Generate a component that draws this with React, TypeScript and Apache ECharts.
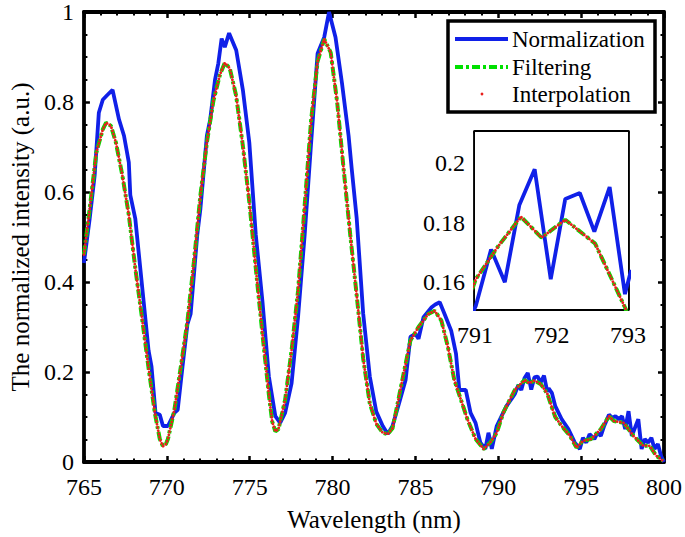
import React, { useEffect, useRef } from "react";
import * as echarts from "echarts";

// Normalization (measured, noisy) spectrum
const normWl = [
  765.0, 765.35, 765.65, 765.9, 766.14, 766.4, 766.73, 767.12, 767.42, 767.71, 767.8, 768.1, 768.4, 768.7, 768.9,
  769.08, 769.32, 769.58, 769.77, 770.07, 770.46, 770.66, 770.95, 771.25, 771.44, 771.84, 772.03, 772.42, 772.62,
  772.91, 773.11, 773.31, 773.5, 773.76, 774.19, 774.59, 774.98, 775.37, 775.77, 776.16, 776.55, 776.84, 777.14,
  777.53, 777.92, 778.32, 778.71, 779.1, 779.5, 779.79, 780.18, 780.57, 780.97, 781.16, 781.46, 781.85, 782.25,
  782.64, 783.03, 783.33, 783.62, 784.02, 784.41, 784.7, 785.0, 785.19, 785.49, 785.98, 786.2, 786.47, 786.76,
  787.16, 787.45, 787.65, 788.04, 788.33, 788.63, 788.92, 789.22, 789.41, 789.61, 789.91, 790.2, 790.49, 790.8,
  791.01, 791.21, 791.39, 791.58, 791.78, 791.99, 792.18, 792.37, 792.56, 792.76, 792.96, 793.04, 793.24, 793.44,
  793.83, 794.23, 794.62, 794.92, 795.11, 795.31, 795.51, 795.8, 795.99, 796.19, 796.39, 796.68, 796.88, 797.07,
  797.27, 797.47, 797.66, 797.86, 798.06, 798.25, 798.45, 798.65, 798.84, 799.04, 799.24, 799.43, 799.63, 799.82,
  800.0,
];
const normVal = [
  0.442, 0.541, 0.637, 0.776, 0.805, 0.815, 0.827, 0.761, 0.725, 0.666, 0.593, 0.541, 0.431, 0.322, 0.248,
  0.212, 0.109, 0.105, 0.08, 0.08, 0.109, 0.116, 0.212, 0.307, 0.329, 0.505, 0.563, 0.725, 0.761,
  0.849, 0.886, 0.941, 0.922, 0.953, 0.915, 0.827, 0.71, 0.505, 0.358, 0.19, 0.102, 0.087, 0.109,
  0.175, 0.322, 0.505, 0.71, 0.908, 0.944, 1.0, 0.944, 0.842, 0.725, 0.651, 0.541, 0.33, 0.19,
  0.112, 0.08, 0.062, 0.08, 0.131, 0.182, 0.278, 0.285, 0.274, 0.322, 0.344, 0.35, 0.355, 0.329,
  0.292, 0.241, 0.16, 0.16, 0.109, 0.087, 0.043, 0.029, 0.065, 0.029, 0.08, 0.102, 0.124, 0.14,
  0.152, 0.171, 0.16, 0.186, 0.198, 0.161, 0.188, 0.19, 0.177, 0.192, 0.156, 0.164, 0.153, 0.124,
  0.095, 0.073, 0.043, 0.029, 0.054, 0.043, 0.062, 0.051, 0.065, 0.058, 0.08, 0.105, 0.098, 0.102,
  0.095, 0.102, 0.073, 0.113, 0.058, 0.076, 0.095, 0.029, 0.051, 0.043, 0.054, 0.029, 0.04, 0.014,
  0.0,
];

// Filtering / interpolation (smooth) spectrum
const smoothWl = [
  765.0, 765.35, 765.75, 766.14, 766.34, 766.63, 766.93, 767.32, 767.71, 768.1, 768.5, 768.89, 769.28, 769.58,
  769.77, 769.95, 770.07, 770.46, 770.85, 771.25, 771.64, 772.03, 772.42, 772.81, 773.21, 773.5, 773.8, 774.19,
  774.59, 774.98, 775.37, 775.77, 776.16, 776.36, 776.55, 776.74, 777.14, 777.53, 777.92, 778.32, 778.71, 779.1,
  779.5, 779.89, 780.28, 780.67, 781.07, 781.46, 781.85, 782.25, 782.64, 783.03, 783.33, 783.62, 783.82, 784.21,
  784.7, 785.19, 785.78, 786.17, 786.57, 786.96, 787.35, 787.75, 788.14, 788.63, 789.12, 789.51, 789.91, 790.3,
  790.69, 791.01, 791.3, 791.6, 791.87, 792.18, 792.57, 792.97, 793.2, 793.44, 793.83, 794.33, 794.72, 795.11,
  795.6, 796.19, 796.68, 796.98, 797.57, 798.16, 798.75, 799.14, 799.53, 799.93,
];
const smoothVal = [
  0.461, 0.563, 0.688, 0.739, 0.754, 0.747, 0.71, 0.637, 0.549, 0.431, 0.322, 0.212, 0.109, 0.051,
  0.035, 0.04, 0.051, 0.116, 0.212, 0.314, 0.446, 0.593, 0.71, 0.802, 0.861, 0.887, 0.875, 0.813,
  0.703, 0.578, 0.431, 0.285, 0.15, 0.09, 0.068, 0.073, 0.138, 0.248, 0.38, 0.57, 0.76, 0.89,
  0.94, 0.91, 0.8, 0.651, 0.505, 0.37, 0.23, 0.13, 0.085, 0.065, 0.062, 0.075, 0.11, 0.182,
  0.27, 0.3, 0.329, 0.336, 0.314, 0.256, 0.182, 0.138, 0.095, 0.051, 0.029, 0.043, 0.065, 0.109,
  0.138, 0.161, 0.172, 0.182, 0.175, 0.181, 0.173, 0.151, 0.125, 0.1, 0.08, 0.058, 0.032, 0.047,
  0.051, 0.073, 0.102, 0.091, 0.087, 0.058, 0.036, 0.036, 0.014, 0.003,
];

const legendNames = ["Normalization", "Filtering", "Interpolation"];
const mainXTicks = { min: 765, max: 800, step: 5 };
const mainYTicks = { min: 0, max: 1, step: 0.2 };
const insetXTicks = { min: 791, max: 793, step: 1 };
const insetYLabels = [0.16, 0.18, 0.2];

const FONT = "Liberation Serif";
const BLUE = "#1020e8";
const GREEN = "#00e000";
const RED = "#e8201c";

export default function App() {
  const ref = useRef<HTMLDivElement>(null);
  useEffect(() => {
    if (!ref.current) return;
    const chart = echarts.init(ref.current, null, { renderer: "svg" });
    const norm = normWl.map((x, i) => [x, normVal[i]]);
    const smooth = smoothWl.map((x, i) => [x, smoothVal[i]]);

    const axisLine = { show: true, onZero: false, lineStyle: { color: "#000", width: 3.8 } };
    const mainX = (pos: string, show: boolean) => ({
      type: "value",
      gridIndex: 0,
      position: pos,
      min: mainXTicks.min,
      max: mainXTicks.max,
      interval: mainXTicks.step,
      axisLine,
      axisTick: { show: true, inside: true, length: 6, lineStyle: { color: "#000", width: 2.5 } },
      minorTick: { show: true, splitNumber: 5, length: 3.5, lineStyle: { color: "#000", width: 2 } },
      splitLine: { show: false },
      axisLabel: { show, color: "#000", fontFamily: FONT, fontSize: 24, margin: 13 },
      name: show ? "Wavelength (nm)" : "",
      nameLocation: "middle",
      nameGap: 45,
      nameTextStyle: { color: "#000", fontFamily: FONT, fontSize: 25 },
    });
    const mainY = (pos: string, show: boolean) => ({
      type: "value",
      gridIndex: 0,
      position: pos,
      min: mainYTicks.min,
      max: mainYTicks.max,
      interval: mainYTicks.step,
      axisLine,
      axisTick: { show: true, inside: true, length: 6, lineStyle: { color: "#000", width: 2.5 } },
      minorTick: { show: true, splitNumber: 4, length: 3.5, lineStyle: { color: "#000", width: 2 } },
      splitLine: { show: false },
      axisLabel: { show, color: "#000", fontFamily: FONT, fontSize: 24, margin: 10 },
      name: show ? "The normalized intensity (a.u.)" : "",
      nameLocation: "middle",
      nameGap: 48,
      nameTextStyle: { color: "#000", fontFamily: FONT, fontSize: 25 },
    });
    const insetX = (pos: string, show: boolean) => ({
      type: "value",
      gridIndex: 1,
      position: pos,
      min: insetXTicks.min,
      max: insetXTicks.max,
      interval: insetXTicks.step,
      axisLine,
      axisTick: { show: true, inside: true, length: 5, lineStyle: { color: "#000", width: 2 } },
      minorTick: { show: true, splitNumber: 5, length: 3, lineStyle: { color: "#000", width: 1.5 } },
      splitLine: { show: false },
      axisLabel: { show, color: "#000", fontFamily: FONT, fontSize: 24, margin: 14, showMinLabel: true, showMaxLabel: true },
    });
    const insetY = (pos: string, show: boolean) => ({
      type: "value",
      gridIndex: 1,
      position: pos,
      min: 0.151,
      max: 0.2105,
      axisLine,
      axisTick: { show: true, inside: true, length: 5, customValues: insetYLabels, lineStyle: { color: "#000", width: 2 } },
      splitLine: { show: false },
      axisLabel: {
        show,
        color: "#000",
        fontFamily: FONT,
        fontSize: 24,
        margin: 10,
        customValues: insetYLabels,
        formatter: (v: number) => String(Math.round(v * 100) / 100),
      },
    });

    const lineSeries = (name: string, data: number[][], xi: number, yi: number, style: any, z: number) => ({
      type: "line",
      name,
      data,
      xAxisIndex: xi,
      yAxisIndex: yi,
      showSymbol: false,
      symbol: "none",
      clip: true,
      z,
      lineStyle: style,
    });

    const blueStyle = { color: BLUE, width: 3.8 };
    const greenStyle = { color: GREEN, width: 4, type: [9, 3, 3, 3] };
    const redStyle = { color: RED, width: 2.8, type: [0.1, 3.2], cap: "round" };

    chart.setOption({
      animation: false,
      grid: [
        { left: 74, top: 8, width: 594, height: 455, containLabel: false },
        { left: 475, top: 132, width: 153, height: 177, show: true, backgroundColor: "#fff", borderWidth: 0, z: 5 },
      ],
      xAxis: [mainX("bottom", true), mainX("top", false), insetX("bottom", true), insetX("top", false)],
      yAxis: [mainY("left", true), mainY("right", false), insetY("left", true), insetY("right", false)],
      series: [
        lineSeries(legendNames[0], norm, 0, 0, blueStyle, 2),
        lineSeries(legendNames[1], smooth, 0, 0, greenStyle, 3),
        lineSeries(legendNames[2], smooth, 0, 0, redStyle, 4),
        lineSeries(legendNames[0], norm, 2, 2, blueStyle, 6),
        lineSeries(legendNames[1], smooth, 2, 2, greenStyle, 7),
        lineSeries(legendNames[2], smooth, 2, 2, redStyle, 8),
      ],
      graphic: [
        { type: "rect", z: 100, shape: { x: 448, y: 21, width: 207, height: 91 }, style: { fill: "#fff", stroke: "#000", lineWidth: 3.5 } },
        { type: "line", z: 101, shape: { x1: 455, y1: 39, x2: 508, y2: 39 }, style: { stroke: BLUE, lineWidth: 3.8 } },
        { type: "line", z: 101, shape: { x1: 455, y1: 67, x2: 508, y2: 67 }, style: { stroke: GREEN, lineWidth: 3.8, lineDash: [8, 3, 3, 3] } },
        { type: "circle", z: 101, shape: { cx: 482, cy: 94, r: 1.4 }, style: { fill: RED } },
        { type: "text", z: 101, x: 512, y: 28, style: { text: legendNames[0], fontSize: 23, fontFamily: FONT, fill: "#000" } },
        { type: "text", z: 101, x: 512, y: 56, style: { text: legendNames[1], fontSize: 23, fontFamily: FONT, fill: "#000" } },
        { type: "text", z: 101, x: 512, y: 83, style: { text: legendNames[2], fontSize: 23, fontFamily: FONT, fill: "#000" } },
      ],
    });
    return () => chart.dispose();
  }, []);
  return <div ref={ref} style={{ position: "fixed", left: 0, top: 0, width: 685, height: 537, background: "#fff" }} />;
}
